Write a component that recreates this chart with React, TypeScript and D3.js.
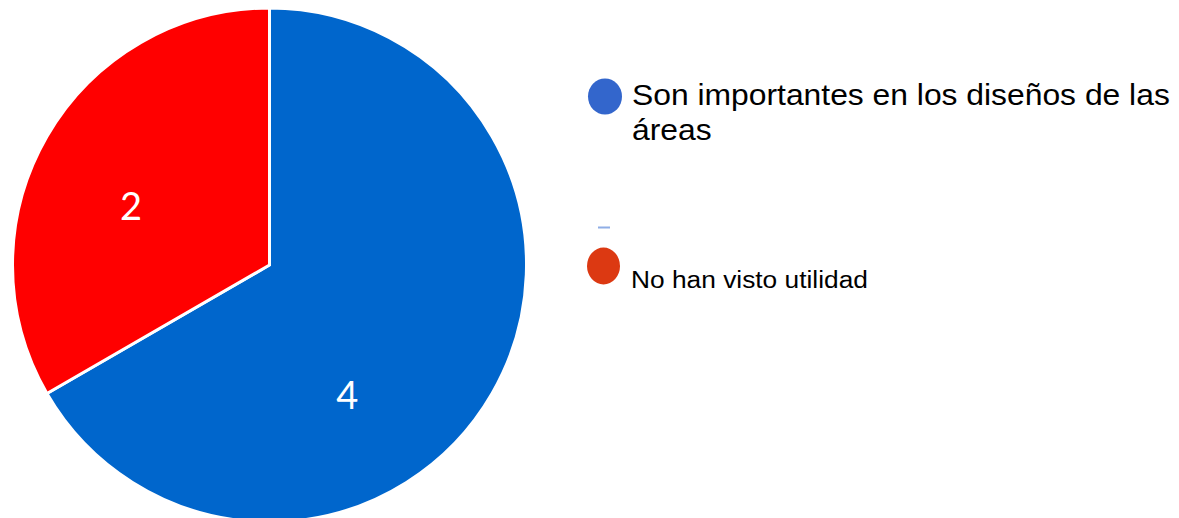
import React from "react";
import * as d3 from "d3";

const categories = ["Son importantes en los diseños de las áreas", "No han visto utilidad"];
const values = [4, 2];
const sliceColors = ["#0066CC", "#FF0000"];
const legendColors = ["#3366CC", "#DC3912"];
const legendLines = [["Son importantes en los diseños de las", "áreas"], ["No han visto utilidad"]];
const labelAngleShift = [29, -6.5]; // degrees, label placement tweak

export default function App() {
  const W = 1179, H = 518;
  const cx = 269.5, cy = 265, R = 257;
  const pie = d3.pie<number>().sort(null).value((d) => d)(values);
  const arc = d3.arc<d3.PieArcDatum<number>>().innerRadius(0).outerRadius(R);
  return (
    <svg width={W} height={H} style={{ position: "absolute", left: 0, top: 0 }}>
      <rect width={W} height={H} fill="#fff" />
      <g transform={`translate(${cx},${cy})`}>
        {pie.map((p, i) => (
          <path key={i} d={arc(p) || ""} fill={sliceColors[i]} stroke="#fff" strokeWidth={3} strokeLinejoin="miter" />
        ))}
        {pie.map((p, i) => {
          const a = (p.startAngle + p.endAngle) / 2 + (labelAngleShift[i] * Math.PI) / 180;
          const r = 151;
          return (
            <text key={i} x={r * Math.sin(a)} y={-r * Math.cos(a)} fill="#fff" fontFamily="Lato, 'Open Sans', sans-serif" fontSize={38} textAnchor="middle" dominantBaseline="central">
              {values[i]}
            </text>
          );
        })}
      </g>
      <g fontFamily="'Liberation Sans', Arial, sans-serif" fill="#000">
        <ellipse cx={605} cy={96.5} rx={17} ry={18} fill={legendColors[0]} />
        <text transform="translate(632,105) scale(1.098,1)" fontSize={29}>
          {legendLines[0].map((l, j) => (
            <tspan key={j} x={0} dy={j === 0 ? 0 : 35}>{l}</tspan>
          ))}
        </text>
        <rect x={598} y={226.5} width={12} height={2} fill="#8faee6" />
        <ellipse cx={603.5} cy={266} rx={16.5} ry={18.5} fill={legendColors[1]} />
        <text transform="translate(631,287.5) scale(1.12,1)" fontSize={23.5}>{legendLines[1][0]}</text>
      </g>
    </svg>
  );
}
